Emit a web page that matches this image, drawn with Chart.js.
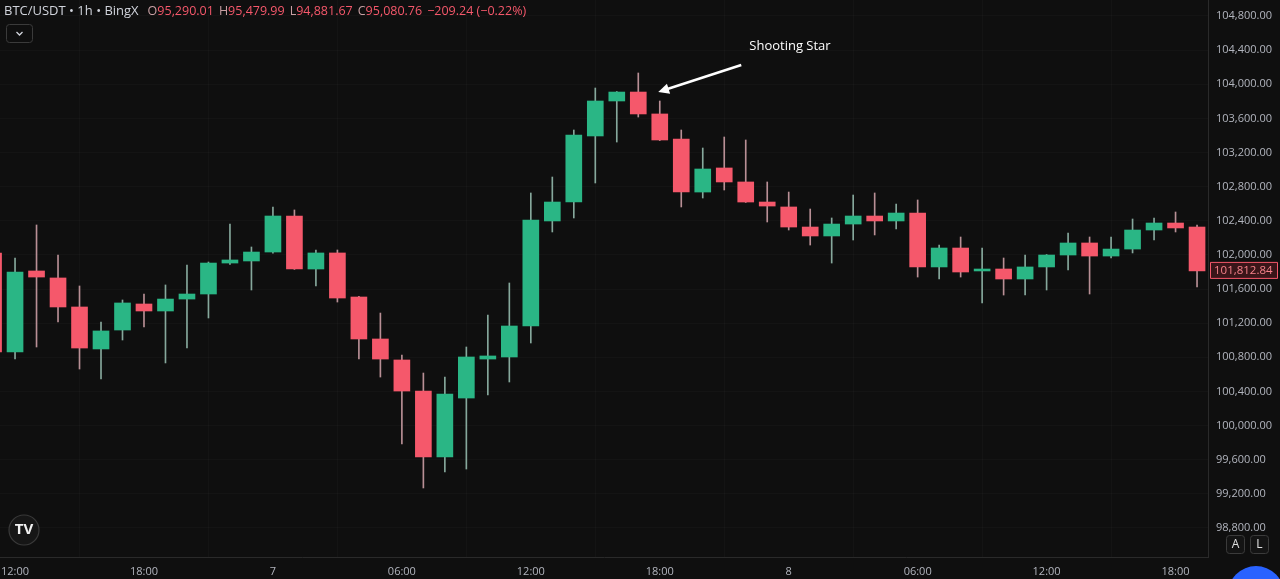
<!DOCTYPE html>
<html>
<head>
<meta charset="utf-8">
<script src="https://cdn.jsdelivr.net/npm/chart.js@4.4.1/dist/chart.umd.min.js"></script>
<style>
  html, body { margin: 0; padding: 0; background: #0f0f0f; }
  #wrap { width: 1280px; height: 579px; position: relative; }
</style>
</head>
<body>
<div id="wrap"><canvas id="btcChart"></canvas></div>
<script>
// 1h candles, BTC/USDT, from 11:00 on the 6th to 19:00 on the 8th
const timeLabels = [
  "11:00","12:00","13:00","14:00","15:00","16:00","17:00","18:00","19:00","20:00","21:00","22:00","23:00",
  "00:00","01:00","02:00","03:00","04:00","05:00","06:00","07:00","08:00","09:00","10:00","11:00","12:00",
  "13:00","14:00","15:00","16:00","17:00","18:00","19:00","20:00","21:00","22:00","23:00",
  "00:00","01:00","02:00","03:00","04:00","05:00","06:00","07:00","08:00","09:00","10:00","11:00","12:00",
  "13:00","14:00","15:00","16:00","17:00","18:00","19:00"
];
const opens = [
  102023, 100862, 101812, 101730, 101390, 100898, 101120, 101425, 101343, 101483, 101542, 101905, 101929,
  102034, 102456, 101835, 102023, 101507, 101015, 100769, 100405, 99632, 100323, 100780, 100804, 101167,
  102398, 102620, 103394, 103804, 103909, 103652, 103359, 102737, 103019, 102855, 102620,
  102562, 102327, 102222, 102362, 102456, 102398, 102491, 101859, 102081, 101812, 101835, 101718, 101859,
  101999, 102140, 101987, 102069, 102292, 102374, 102327
];
const highs = [
  102058, 101964, 102351, 101999, 101636, 101214, 101472, 101542, 101648, 101882, 101917, 102362, 102093,
  102562, 102527, 102058, 102058, 101515, 101319, 100827, 100616, 100569, 100921, 101296, 101671, 102726,
  102913, 103464, 103956, 103915, 104132, 103804, 103464, 103253, 103382, 103347, 102855,
  102737, 102538, 102433, 102702, 102726, 102597, 102644, 102116, 102210, 102081, 101964, 101999, 102005,
  102257, 102210, 102210, 102421, 102433, 102503, 102351
];
const lows = [
  100792, 100780, 100921, 101214, 100663, 100546, 101003, 101155, 100734, 100909, 101261, 101890, 101589,
  102020, 101830, 101636, 101448, 100780, 100569, 99784, 99269, 99456, 99491, 100358, 100511, 100968,
  102269, 102433, 102843, 103323, 103616, 103340, 102562, 102667, 102761, 102615, 102386,
  102292, 102116, 101905, 102175, 102234, 102304, 101741, 101718, 101741, 101437, 101530, 101530, 101589,
  101823, 101542, 101964, 102023, 102175, 102269, 101624
];
const closes = [
  100862, 101800, 101741, 101390, 100909, 101109, 101437, 101343, 101483, 101542, 101905, 101941, 102034,
  102456, 101835, 102023, 101495, 101015, 100780, 100405, 99632, 100370, 100804, 100816, 101167, 102409,
  102620, 103405, 103804, 103909, 103652, 103347, 102737, 103007, 102855, 102620, 102573,
  102327, 102222, 102362, 102456, 102398, 102491, 101859, 102081, 101800, 101835, 101718, 101859, 101999,
  102140, 101987, 102069, 102292, 102374, 102316, 101812.84
];

// axis labels
const xTickIndex = [1, 7, 13, 19, 25, 31, 37, 43, 49, 55];
const xTickLabels = ["12:00", "18:00", "7", "06:00", "12:00", "18:00", "8", "06:00", "12:00", "18:00"];
const yTicks = [98800, 99200, 99600, 100000, 100400, 100800, 101200, 101600, 102000,
  102400, 102800, 103200, 103600, 104000, 104400, 104800];

const UP = "#2ab685";
const DOWN = "#f5586b";
const UP_WICK = "#86a89c";
const DOWN_WICK = "#b88f95";
const TEXT = "#b2b5be";

const isUp = i => closes[i] >= opens[i];
const fmt = v => v.toLocaleString("en-US", { minimumFractionDigits: 2, maximumFractionDigits: 2 });

const overlay = {
  id: "overlay",
  afterDraw(chart) {
    const { ctx, scales: { x, y } } = chart;
    ctx.save();

    // header
    ctx.font = "13px 'Open Sans', sans-serif";
    ctx.textBaseline = "middle";
    ctx.textAlign = "left";
    ctx.fillStyle = "#d1d4dc";
    let cx = 4;
    const title = "BTC/USDT \u2022 1h \u2022 BingX";
    ctx.fillText(title, cx, 11);
    cx += ctx.measureText(title).width + 9;
    const parts = [["O", "95,290.01"], ["H", "95,479.99"], ["L", "94,881.67"], ["C", "95,080.76"], ["", "\u2212209.24 (\u22120.22%)"]];
    ctx.font = "12.5px 'Open Sans', sans-serif";
    parts.forEach(([k, v]) => {
      ctx.fillStyle = "#c8a0a4";
      ctx.fillText(k, cx, 11);
      cx += ctx.measureText(k).width;
      ctx.fillStyle = DOWN;
      ctx.fillText(v, cx, 11);
      cx += ctx.measureText(v).width + 5;
    });

    // dropdown button
    ctx.strokeStyle = "#3b3b3b";
    ctx.lineWidth = 1;
    ctx.beginPath();
    ctx.roundRect(6.5, 24.5, 26, 18, 3);
    ctx.stroke();
    ctx.strokeStyle = "#d1d4dc";
    ctx.lineWidth = 1.3;
    ctx.beginPath();
    ctx.moveTo(16.5, 32);
    ctx.lineTo(19.5, 35);
    ctx.lineTo(22.5, 32);
    ctx.stroke();

    // TV logo
    ctx.fillStyle = "#161616";
    ctx.strokeStyle = "#3a3a3a";
    ctx.lineWidth = 1.2;
    ctx.beginPath();
    ctx.arc(24, 530, 15, 0, Math.PI * 2);
    ctx.fill();
    ctx.stroke();
    ctx.fillStyle = "#f0f0f0";
    ctx.font = "bold 15px 'Open Sans', sans-serif";
    ctx.textAlign = "center";
    ctx.fillText("TV", 24, 530);

    // A / L buttons
    ctx.font = "12px 'Open Sans', sans-serif";
    [["A", 1226], ["L", 1250]].forEach(([t, bx]) => {
      ctx.strokeStyle = "#3b3b3b";
      ctx.lineWidth = 1;
      ctx.fillStyle = "#141414";
      ctx.beginPath();
      ctx.roundRect(bx + 0.5, 535.5, 18, 18, 3);
      ctx.fill();
      ctx.stroke();
      ctx.fillStyle = "#e0e0e0";
      ctx.fillText(t, bx + 9.5, 545);
    });

    // blue round button
    ctx.fillStyle = "#2962ff";
    ctx.beginPath();
    ctx.arc(1256, 594, 28, 0, Math.PI * 2);
    ctx.fill();

    // last price label
    const last = closes[closes.length - 1];
    const py = y.getPixelForValue(last);
    ctx.fillStyle = "#3a1519";
    ctx.strokeStyle = DOWN;
    ctx.beginPath();
    ctx.rect(1210.5, py - 8.5, 67, 16);
    ctx.fill();
    ctx.stroke();
    ctx.fillStyle = "#f7828b";
    ctx.font = "11.5px 'Open Sans', sans-serif";
    ctx.textAlign = "left";
    ctx.fillText(fmt(last), 1214, py);

    // shooting star annotation
    const tipX = x.getPixelForValue(30) + 20;
    const tipY = y.getPixelForValue(opens[30]);
    const tailX = tipX + 83, tailY = tipY - 27;
    ctx.strokeStyle = "#ffffff";
    ctx.fillStyle = "#ffffff";
    ctx.lineWidth = 2.5;
    const ang = Math.atan2(tipY - tailY, tipX - tailX);
    ctx.beginPath();
    ctx.moveTo(tailX, tailY);
    ctx.lineTo(tipX - 8 * Math.cos(ang), tipY - 8 * Math.sin(ang));
    ctx.stroke();
    ctx.beginPath();
    ctx.moveTo(tipX, tipY);
    ctx.lineTo(tipX - 12 * Math.cos(ang - 0.45), tipY - 12 * Math.sin(ang - 0.45));
    ctx.lineTo(tipX - 12 * Math.cos(ang + 0.45), tipY - 12 * Math.sin(ang + 0.45));
    ctx.closePath();
    ctx.fill();
    ctx.font = "500 13px 'Open Sans', sans-serif";
    ctx.fillText("Shooting Star", tipX + 91, tipY - 46);

    ctx.restore();
  }
};

const noPad = axis => {
  axis.paddingTop = 0;
  axis.paddingBottom = 0;
  axis.paddingLeft = 0;
  axis.paddingRight = 0;
};

new Chart(document.getElementById("btcChart"), {
  type: "bar",
  data: {
    datasets: [
      {
        label: "wick",
        data: timeLabels.map((t, i) => ({ x: i, y: [lows[i], highs[i]] })),
        backgroundColor: timeLabels.map((t, i) => (isUp(i) ? UP_WICK : DOWN_WICK)),
        barThickness: 1,
        grouped: false,
        order: 2,
      },
      {
        label: "body",
        data: timeLabels.map((t, i) => ({ x: i, y: [opens[i], closes[i]] })),
        backgroundColor: timeLabels.map((t, i) => (isUp(i) ? UP : DOWN)),
        barThickness: 16,
        grouped: false,
        order: 1,
      },
    ],
  },
  options: {
    responsive: true,
    maintainAspectRatio: false,
    animation: false,
    layout: { padding: 0 },
    plugins: { legend: { display: false }, tooltip: { enabled: false } },
    scales: {
      x: {
        type: "linear",
        offset: false,
        min: 0.3,
        max: 56.51,
        grid: { color: "rgba(255,255,255,0.025)", drawTicks: false },
        border: { color: "#2a2a2a" },
        afterBuildTicks: axis => { axis.ticks = xTickIndex.map(v => ({ value: v })); },
        afterFit: axis => { axis.height = 22; noPad(axis); },
        ticks: {
          autoSkip: false,
          maxRotation: 0,
          padding: 8,
          color: TEXT,
          font: { size: 11, family: "'Open Sans', sans-serif" },
          callback: v => xTickLabels[xTickIndex.indexOf(v)],
        },
      },
      y: {
        position: "right",
        min: 98460,
        max: 104987.5,
        beginAtZero: false,
        grid: { color: "rgba(255,255,255,0.025)", drawTicks: false },
        border: { color: "#2a2a2a" },
        afterBuildTicks: axis => { axis.ticks = yTicks.map(v => ({ value: v })); },
        afterFit: axis => { axis.width = 72; noPad(axis); },
        ticks: {
          padding: 8,
          color: TEXT,
          font: { size: 11, family: "'Open Sans', sans-serif" },
          callback: v => fmt(v),
        },
      },
    },
  },
  plugins: [overlay],
});
</script>
</body>
</html>
